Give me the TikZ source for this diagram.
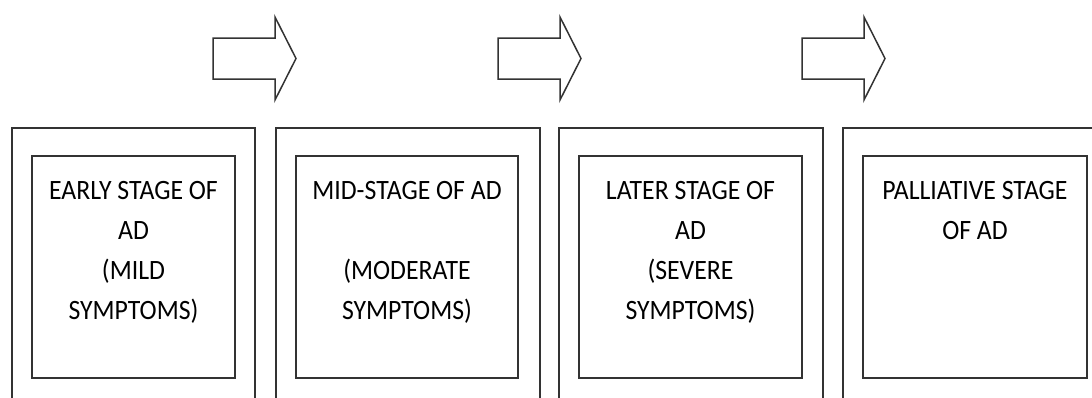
\documentclass[tikz,border=0pt]{standalone}
\usepackage{fontspec}
\setmainfont{Carlito}[FakeStretch=0.92]
\usetikzlibrary{positioning}

\begin{document}
\begin{tikzpicture}[x=1pt,y=-1pt,line width=1.5pt,draw=black!80,
	outerbox/.style={draw,minimum width=264pt,minimum height=290pt,anchor=north},
	innerbox/.style={draw,minimum height=222pt,anchor=north},
	stagetext/.style={align=center,inner sep=0pt,font=\fontsize{28}{40}\selectfont}]

	\useasboundingbox (0,0) rectangle (1092,397);
	\clip (0,0) rectangle (1092,397);

	% outer frames, cut off at the bottom
	\node[outerbox,minimum width=243pt] (o1) at (133.5,127) {};
	\node[outerbox] (o2) at (408,127) {};
	\node[outerbox] (o3) at (691,127) {};
	\node[outerbox] (o4) at (975,127) {};

	% inner boxes
	\node[innerbox,minimum width=203pt] (b1) at (133.5,155) {};
	\node[innerbox,minimum width=222pt] (b2) at (407,155) {};
	\node[innerbox,minimum width=223pt] (b3) at (690.5,155) {};
	\node[innerbox,minimum width=224pt] (b4) at (975,155) {};

	\node[stagetext,below=26pt of b1.north] (t1) {EARLY STAGE OF\\AD\\(MILD\\SYMPTOMS)};
	\node[stagetext,below=26pt of b2.north] (t2) {MID-STAGE OF AD\\[40pt](MODERATE\\SYMPTOMS)};
	\node[stagetext,below=26pt of b3.north] (t3) {LATER STAGE OF\\AD\\(SEVERE\\SYMPTOMS)};
	\node[stagetext,below=26pt of b4.north] (t4) {PALLIATIVE STAGE\\OF AD};

	% block arrows between the stages
	\foreach \x in {213,498,802}
		\draw[fill=white] (\x,38) -- (\x+62,38) -- (\x+62,17) -- (\x+83,58.5)
			-- (\x+62,100) -- (\x+62,79) -- (\x,79) -- cycle;

\end{tikzpicture}
\end{document}
